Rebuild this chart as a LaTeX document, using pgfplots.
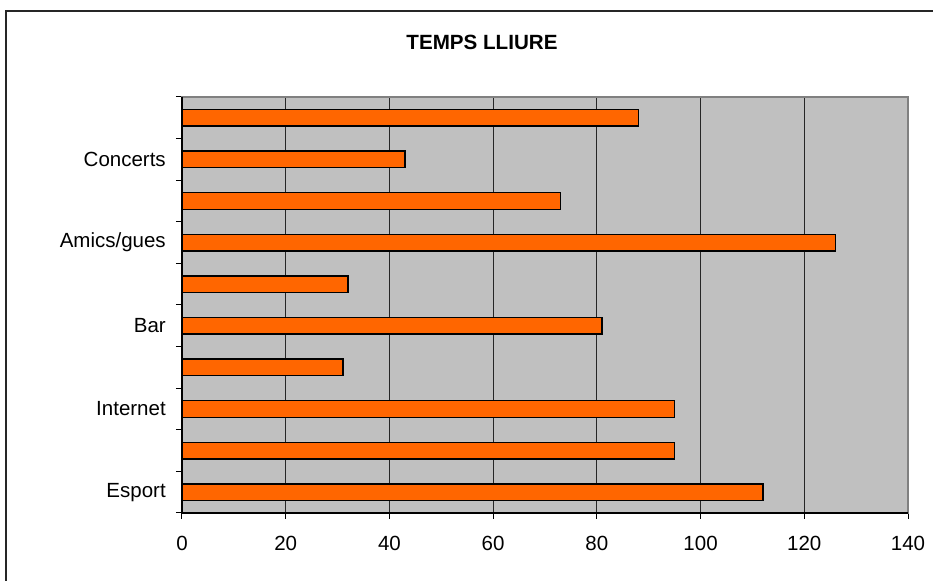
\documentclass[border=0pt]{standalone}
\usepackage{pgfplots}
\pgfplotsset{compat=1.18}
\usepackage{fontspec}
\setmainfont{Liberation Sans}
\definecolor{barorange}{HTML}{FF6600}
\definecolor{plotgray}{HTML}{C0C0C0}
\definecolor{bordergray}{HTML}{808080}
\begin{document}
\begin{tikzpicture}
\useasboundingbox (0,0) rectangle (466.5pt,-290.5pt);
\draw[line width=0.6pt, black!85] (3pt,-300pt) -- (3pt,-5.5pt) -- (470pt,-5.5pt);
\node[font=\bfseries\fontsize{10.3}{12}\selectfont] at (241pt,-21.25pt) {TEMPS LLIURE};
\begin{axis}[
  at={(91pt,-256.5pt)}, anchor=south west,
  scale only axis, width=363pt, height=208pt,
  xmin=0, xmax=140, ymin=0, ymax=10,
  xtick={0,20,...,140},
  ytick={0,...,10}, yticklabels={},
  extra y ticks={0.5,2.5,4.5,6.5,8.5},
  extra y tick labels={Esport,Internet,Bar,Amics/gues,Concerts},
  extra y tick style={major tick length=0pt, yticklabel style={xshift=-4.6pt}},
  xtick pos=left, ytick pos=left,
  tick align=outside, major tick length=3pt,
  tick style={black, line width=0.5pt},
  xmajorgrids, major grid style={black!85, line width=0.5pt},
  axis background/.style={fill=plotgray},
  axis line style={draw=bordergray, line width=0.8pt},
  xticklabel style={yshift=-5pt},
  ticklabel style={font=\fontsize{10.25}{12}\selectfont},
  /pgf/number format/assume math mode=true,
  clip=false,
]
\addplot[xbar, bar width=0.4, fill=barorange, draw=black, line width=0.75pt]
  coordinates {(112,0.5) (95,1.5) (95,2.5) (31,3.5) (81,4.5) (32,5.5) (126,6.5) (73,7.5) (43,8.5) (88,9.5)};
\draw[black, line width=0.6pt] (rel axis cs:0,1) -- (rel axis cs:0,0) -- (rel axis cs:1,0);
\end{axis}
\end{tikzpicture}
\end{document}
